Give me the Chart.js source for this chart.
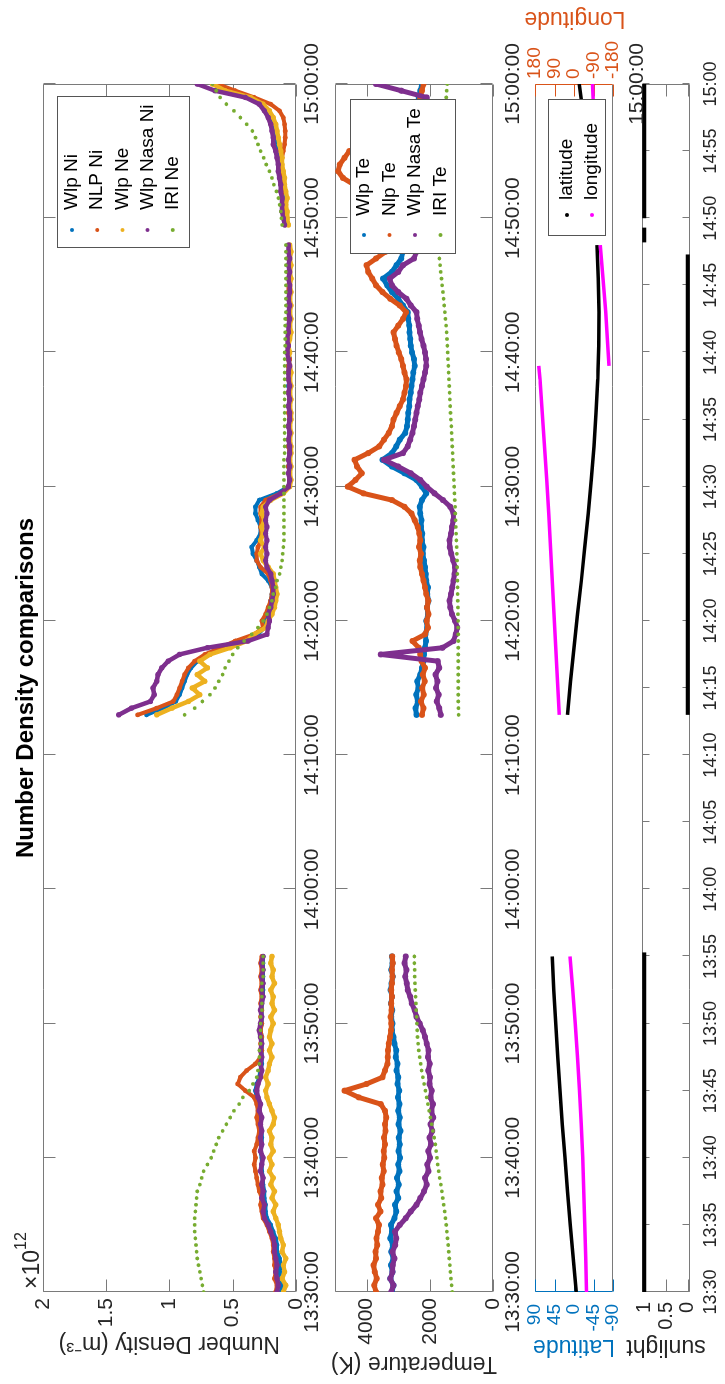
<!DOCTYPE html>
<html>
<head>
<meta charset="utf-8">
<script src="https://cdn.jsdelivr.net/npm/chart.js@4.4.1/dist/chart.umd.min.js"></script>
<style>
  html, body { margin: 0; padding: 0; background: #fff; overflow: hidden; }
  /* figure is laid out landscape, then turned a quarter turn */
  #fig { position: absolute; left: 0; top: 0; width: 1384px; height: 725px; background: #fff;
         transform-origin: 0 0; transform: translateY(1384px) rotate(-90deg); }
  #fig canvas { position: absolute; left: 0; }
</style>
</head>
<body>
<div id="fig">
  <canvas id="dens" width="1384" height="330" style="top:0"></canvas>
  <canvas id="temp" width="1384" height="240" style="top:300px"></canvas>
  <canvas id="geo" width="1384" height="150" style="top:500px"></canvas>
  <canvas id="sun" width="1384" height="105" style="top:620px"></canvas>
</div>
<script>
// time = minutes after 13:30:00, three passes with data gaps between them
const tA = [0,0.5,1,1.5,2,2.5,3,3.5,4,4.5,5,5.5,6,6.5,7,7.5,8,8.5,9,9.5,10,10.5,11,11.5,12,12.5,13,13.5,14,14.5,15,15.5,16,16.5,17,17.5,18,18.5,19,19.5,20,20.5,21,21.5,22,22.5,23,23.5,24,24.5,25];
const tB = [43,43.5,44,44.5,45,45.5,46,46.5,47,47.5,48,48.5,49,49.5,50,50.5,51,51.5,52,52.5,53,53.5,54,54.5,55,55.5,56,56.5,57,57.5,58,58.5,59,59.5,60,60.5,61,61.5,62,62.5,63,63.5,64,64.5,65,65.5,66,66.5,67,67.5,68,68.5,69,69.5,70,70.5,71,71.5,72,72.5,73,73.5,74,74.5,75,75.5,76,76.5,77,77.5,78];
const tC = [79.5,80,80.5,81,81.5,82,82.5,83,83.5,84,84.5,85,85.5,86,86.5,87,87.5,88,88.5,89,89.5,90];

// number density, units of 1e12 m^-3
const wlpNiA = [0.12,0.11,0.12,0.13,0.12,0.13,0.15,0.15,0.16,0.18,0.20,0.23,0.24,0.24,0.25,0.25,0.26,0.26,0.27,0.27,0.27,0.28,0.27,0.27,0.27,0.28,0.28,0.29,0.30,0.31,0.32,0.31,0.29,0.28,0.27,0.27,0.27,0.27,0.27,0.28,0.27,0.27,0.27,0.27,0.26,0.26,0.26,0.26,0.26,0.26,0.26];
const wlpNiB = [1.18,1.05,0.95,0.92,0.90,0.88,0.86,0.83,0.78,0.70,0.58,0.46,0.30,0.25,0.25,0.23,0.21,0.20,0.19,0.19,0.22,0.27,0.29,0.31,0.34,0.35,0.31,0.28,0.28,0.30,0.32,0.32,0.29,0.15,0.06,0.05,0.05,0.06,0.05,0.05,0.06,0.05,0.05,0.06,0.05,0.05,0.06,0.05,0.05,0.06,0.05,0.06,0.06,0.05,0.06,0.07,0.06,0.06,0.05,0.06,0.05,0.06,0.05,0.06,0.05,0.05,0.06,0.05,0.06,0.05,0.05];
const wlpNiC = [0.08,0.09,0.10,0.10,0.10,0.11,0.11,0.12,0.13,0.13,0.14,0.15,0.16,0.17,0.18,0.19,0.21,0.24,0.28,0.38,0.58,0.64];
const nlpNiA = [0.16,0.15,0.17,0.16,0.17,0.17,0.18,0.18,0.19,0.21,0.23,0.26,0.27,0.28,0.27,0.29,0.30,0.31,0.32,0.33,0.32,0.33,0.31,0.30,0.29,0.30,0.31,0.30,0.31,0.33,0.40,0.46,0.44,0.39,0.32,0.28,0.27,0.28,0.27,0.28,0.27,0.28,0.27,0.28,0.27,0.28,0.27,0.28,0.27,0.28,0.27];
const nlpNiB = [1.25,1.10,0.97,0.94,0.92,0.90,0.88,0.85,0.80,0.72,0.60,0.48,0.33,0.26,0.27,0.24,0.22,0.20,0.19,0.19,0.20,0.22,0.28,0.31,0.31,0.30,0.28,0.27,0.28,0.27,0.28,0.28,0.24,0.12,0.06,0.05,0.05,0.06,0.05,0.05,0.06,0.05,0.05,0.06,0.05,0.06,0.05,0.05,0.06,0.05,0.05,0.06,0.06,0.05,0.06,0.07,0.06,0.06,0.05,0.06,0.05,0.06,0.05,0.06,0.06,0.05,0.06,0.05,0.06,0.05,0.05];
const nlpNiC = [0.08,0.09,0.10,0.10,0.11,0.11,0.12,0.12,0.12,0.12,0.11,0.10,0.09,0.085,0.085,0.09,0.10,0.13,0.20,0.33,0.48,0.62];
const wlpNeA = [0.10,0.08,0.11,0.09,0.10,0.08,0.11,0.10,0.12,0.13,0.14,0.16,0.18,0.16,0.19,0.17,0.20,0.18,0.21,0.19,0.21,0.18,0.20,0.19,0.21,0.18,0.17,0.19,0.21,0.23,0.24,0.22,0.24,0.22,0.21,0.19,0.21,0.19,0.21,0.20,0.18,0.20,0.17,0.19,0.18,0.20,0.17,0.19,0.18,0.20,0.19];
const wlpNeB = [1.10,0.98,0.85,0.76,0.82,0.72,0.78,0.70,0.76,0.68,0.52,0.39,0.33,0.24,0.22,0.19,0.17,0.16,0.15,0.16,0.17,0.18,0.22,0.26,0.28,0.25,0.28,0.26,0.27,0.25,0.27,0.26,0.20,0.10,0.05,0.04,0.05,0.04,0.05,0.04,0.04,0.05,0.04,0.05,0.04,0.04,0.05,0.04,0.05,0.04,0.05,0.04,0.05,0.06,0.05,0.06,0.05,0.04,0.05,0.04,0.05,0.04,0.05,0.04,0.05,0.04,0.05,0.04,0.05,0.04,0.05];
const wlpNeC = [0.06,0.07,0.07,0.08,0.07,0.08,0.09,0.09,0.10,0.11,0.11,0.12,0.13,0.14,0.15,0.16,0.18,0.21,0.26,0.36,0.56,0.66];
const nasaNiA = [0.15,0.14,0.15,0.16,0.15,0.16,0.17,0.17,0.18,0.20,0.22,0.25,0.26,0.25,0.27,0.26,0.27,0.26,0.28,0.27,0.26,0.28,0.27,0.28,0.27,0.28,0.27,0.29,0.28,0.30,0.31,0.30,0.28,0.27,0.28,0.27,0.28,0.27,0.28,0.29,0.28,0.27,0.28,0.27,0.26,0.27,0.26,0.27,0.26,0.27,0.26];
const nasaNiB = [1.40,1.30,1.15,1.12,1.13,1.10,1.09,1.06,1.01,0.92,0.70,0.38,0.23,0.22,0.21,0.22,0.20,0.19,0.18,0.18,0.19,0.20,0.23,0.24,0.23,0.24,0.23,0.24,0.23,0.24,0.23,0.24,0.21,0.12,0.06,0.05,0.06,0.05,0.06,0.05,0.05,0.06,0.05,0.06,0.05,0.05,0.06,0.05,0.06,0.05,0.06,0.06,0.05,0.06,0.07,0.06,0.07,0.06,0.06,0.05,0.06,0.05,0.06,0.05,0.05,0.06,0.05,0.06,0.05,0.06,0.06];
const nasaNiC = [0.09,0.10,0.11,0.11,0.11,0.12,0.12,0.13,0.14,0.14,0.15,0.16,0.18,0.18,0.19,0.20,0.22,0.25,0.29,0.40,0.64,0.78];
const iriNeA = [0.73,0.74,0.75,0.76,0.77,0.78,0.785,0.79,0.795,0.80,0.80,0.80,0.795,0.79,0.785,0.78,0.76,0.745,0.73,0.70,0.67,0.65,0.63,0.61,0.58,0.55,0.52,0.49,0.45,0.42,0.37,0.34,0.31,0.30,0.29,0.29,0.29,0.28,0.28,0.28,0.28,0.28,0.27,0.27,0.27,0.27,0.27,0.26,0.26,0.26,0.26];
const iriNeB = [0.88,0.80,0.74,0.68,0.64,0.61,0.58,0.56,0.53,0.50,0.46,0.41,0.35,0.30,0.26,0.23,0.21,0.19,0.18,0.16,0.15,0.13,0.12,0.11,0.105,0.10,0.095,0.095,0.095,0.095,0.095,0.095,0.095,0.095,0.095,0.095,0.095,0.095,0.095,0.09,0.09,0.09,0.09,0.09,0.09,0.09,0.09,0.09,0.09,0.09,0.09,0.09,0.09,0.09,0.09,0.085,0.085,0.085,0.085,0.085,0.08,0.08,0.08,0.08,0.08,0.08,0.08,0.08,0.08,0.08,0.08];
const iriNeC = [0.11,0.115,0.12,0.13,0.14,0.155,0.175,0.19,0.21,0.235,0.255,0.28,0.30,0.32,0.345,0.39,0.44,0.49,0.55,0.60,0.63,0.66];

// electron temperature, K
const wlpTeA = [3200,3150,3250,3180,3230,3150,3220,3170,3250,3200,3230,3120,3060,3100,3000,3050,2980,3040,2960,3000,2940,2990,2950,2980,2930,2990,2950,3000,2960,3010,2970,3020,3000,3050,3020,3080,3060,3120,3150,3200,3180,3220,3190,3230,3200,3240,3210,3170,3220,3180,3200];
const wlpTeB = [2420,2450,2380,2430,2360,2400,2300,2250,2200,2180,2150,2120,2140,2080,2110,2060,2090,2040,2080,2060,2110,2130,2150,2180,2220,2200,2250,2240,2280,2260,2300,2320,2250,2110,2250,2420,2800,3200,3500,3200,3060,2950,2780,2720,2700,2680,2650,2640,2600,2580,2550,2520,2480,2500,2560,2600,2620,2640,2650,2680,2700,2850,3000,3200,3350,3480,3200,3050,2900,2850,2800];
const wlpTeC = [2700,2650,2700,2750,2800,2850,2900,2950,3000,3050,3000,2950,2900,2850,2750,2650,2550,2450,2400,2350,2300,2250];
const nlpTeA = [3700,3760,3680,3740,3780,3700,3720,3660,3690,3640,3610,3700,3560,3640,3540,3560,3500,3520,3460,3490,3440,3460,3420,3450,3400,3420,3380,3420,3550,4250,4700,4000,3500,3420,3340,3330,3320,3300,3260,3230,3220,3240,3210,3220,3200,3220,3200,3180,3200,3170,3190];
const nlpTeB = [2250,2200,2280,2190,2240,2160,2220,2150,2260,2300,2350,2550,2150,2060,2100,2040,2090,2050,2110,2150,2200,2250,2300,2320,2280,2340,2300,2330,2380,2480,2580,2800,3200,4100,4600,4350,4150,4300,4380,3950,3600,3450,3300,3200,3150,3050,2950,2850,2800,2750,2740,2800,2850,2900,2980,3050,3100,3150,3000,2850,2750,2950,3250,3500,3700,3820,3950,4000,3700,3400,3300];
const nlpTeC = [3000,3100,3300,3500,3800,4100,4400,4750,4900,4850,4700,4550,4000,3500,3000,2700,2500,2400,2350,2300,2250,2200];
const nasaTeA = [3220,3150,3250,3180,3170,3120,3180,3090,3060,3100,2950,2760,2600,2420,2300,2180,2100,2150,2040,2080,1990,2050,1960,2010,1920,1980,1890,1950,1900,1980,1940,2010,1990,2050,2000,2060,2040,2100,2150,2220,2320,2420,2480,2570,2620,2700,2730,2780,2740,2800,2760];
const nasaTeB = [1650,1700,1780,1720,1800,1760,1820,1700,1750,3550,1600,1250,1180,1130,1200,1300,1350,1380,1330,1290,1250,1220,1200,1260,1320,1370,1380,1330,1300,1260,1250,1350,1580,1850,2100,2300,2600,3000,3450,2850,2700,2620,2550,2500,2460,2420,2380,2330,2300,2250,2200,2150,2110,2120,2150,2200,2260,2310,2350,2400,2420,2600,2740,3000,3200,3270,3000,2850,2500,2420,2400];
const nasaTeC = [2500,2450,2500,2550,2600,2650,2700,2750,2800,2850,2800,2750,2700,2650,2550,2450,2300,2150,2050,2100,2900,3700];
const iriTeA = [1290,1310,1330,1350,1365,1385,1400,1420,1440,1460,1480,1505,1530,1560,1590,1620,1650,1690,1720,1750,1775,1800,1825,1860,1900,1940,1980,2020,2060,2100,2140,2180,2220,2260,2290,2320,2350,2370,2390,2400,2410,2420,2430,2440,2450,2460,2470,2480,2480,2490,2490];
const iriTeB = [1090,1095,1100,1100,1100,1100,1100,1100,1100,1100,1100,1100,1100,1105,1105,1110,1110,1115,1120,1120,1125,1130,1135,1140,1145,1150,1160,1170,1175,1185,1195,1200,1210,1220,1230,1240,1250,1260,1270,1280,1290,1300,1310,1320,1335,1345,1355,1365,1375,1385,1395,1405,1415,1425,1435,1445,1455,1470,1485,1505,1525,1545,1565,1585,1610,1630,1655,1675,1700,1720,1740];
const iriTeC = [1790,1785,1775,1765,1750,1735,1720,1700,1680,1660,1640,1620,1600,1580,1560,1545,1530,1510,1495,1480,1465,1450];

// satellite position, degrees
const geoTA = [0,2.5,5,7.5,10,12.5,15,17.5,20,22.5,25];
const latA = [-5,2,8.5,15,21,27,32.5,37.5,42,46.5,50];
const lonA = [-58,-54,-50,-45,-40,-33,-25,-16,-6,6,18];
const geoTB = [43,45.5,48,50.5,53,55.5,58,60.5,63,65.5,68,70.5,73,75.5,78];
const latB = [15,8,0,-8,-17,-25,-33,-40,-46,-51,-55,-57,-57.5,-56,-53];
const lonTB1 = [43,45.5,48,50.5,53,55.5,58,60.5,63,65.5,68,69];
const lonB1 = [68,76,84,92,100,108,117,126,136,146,157,163];
const lonTB2 = [69,70.5,73,75.5,78];
const lonB2 = [-162,-156,-146,-134,-121];
const geoTC = [79.5,82,84.5,87,90];
const latC = [-50,-43,-34,-24,-12];
const lonC = [-114,-107,-100,-93,-85];

// sunlight flag per stretch
const sunTA = [0,25.3], sunA = [1,1];
const sunTB = [43,77.3], sunB = [0,0];
const sunTC = [78.2,79.3], sunC = [1,1];
const sunTD = [80,90], sunD = [1,1];

const densTicks = [0,0.5,1,1.5,2];
const tempTicks = [0,2000,4000];
const latTicks = [-90,-45,0,45,90];
const lonTicks = [-180,-90,0,90,180];
const sunTicks = [0,0.5,1];

const BLUE = '#0072BD', ORANGE = '#D95319', YELLOW = '#EDB120', PURPLE = '#7E2F8E', GREEN = '#77AC30';
const INK = '#262626', EDGE = '#7a7a7a';
const FONT = '"Liberation Sans", Arial, Helvetica, sans-serif';
Chart.defaults.font.family = FONT;
Chart.defaults.color = INK;

// join passes into one trace, a null point breaks the line between them
function trace(...segs) {
  const out = [];
  segs.forEach(([ts, vs], i) => {
    if (i) out.push({ x: ts[0], y: null });
    ts.forEach((t, j) => out.push({ x: t, y: vs[j] }));
  });
  return out;
}

function dotted(label, color, data, order, width) {
  return { label, data, order, borderColor: color, backgroundColor: color, pointBackgroundColor: color,
           borderWidth: width, pointRadius: width * 0.6, pointBorderWidth: 0, tension: 0, clip: 0,
           borderJoinStyle: 'round', borderCapStyle: 'round' };
}
function model(label, color, data, order) {
  return { label, data, order, showLine: false, borderColor: color, backgroundColor: color,
           pointBackgroundColor: color, pointRadius: 1.9, pointBorderWidth: 0, clip: 0 };
}

const clock = v => {
  const m = 30 + v;
  return (13 + Math.floor(m / 60)) + ':' + String(m % 60).padStart(2, '0');
};
const clockSec = v => clock(v) + ':00';
const fixTicks = list => scale => { scale.ticks = list.map(v => ({ value: v })); };
const noGrid = { display: false, drawTicks: false };

// box frame with inward tick marks
const axisBox = {
  id: 'axisBox',
  beforeDatasetsDraw(chart, args, o) {
    const { ctx, chartArea: a } = chart;
    const L = Math.round(a.left) + 0.5, R = Math.round(a.right) - 0.5;
    const T = Math.round(a.top) + 0.5, B = Math.round(a.bottom) - 0.5;
    ctx.save();
    ctx.lineWidth = 1;
    const line = (c, x1, y1, x2, y2) => { ctx.strokeStyle = c; ctx.beginPath(); ctx.moveTo(x1, y1); ctx.lineTo(x2, y2); ctx.stroke(); };
    line(EDGE, L, T, R, T);
    line(EDGE, L, B, R, B);
    line(o.left || EDGE, L, T, L, B);
    line(o.right || EDGE, R, T, R, B);
    (o.marks || []).forEach(m => {
      const s = chart.scales[m.scale];
      ctx.strokeStyle = m.color || EDGE;
      s.ticks.forEach(t => {
        const p = Math.round(s.getPixelForValue(t.value)) + 0.5;
        ctx.beginPath();
        m.sides.forEach(side => {
          if (side === 'bottom') { ctx.moveTo(p, B); ctx.lineTo(p, B - m.len); }
          if (side === 'top') { ctx.moveTo(p, T); ctx.lineTo(p, T + m.len); }
          if (side === 'left') { ctx.moveTo(L, p); ctx.lineTo(L + m.len, p); }
          if (side === 'right') { ctx.moveTo(R, p); ctx.lineTo(R - m.len, p); }
        });
        ctx.stroke();
      });
    });
    ctx.restore();
  }
};

// legend drawn inside the plot, one column of dot + label rows
const boxLegend = {
  id: 'boxLegend',
  afterDatasetsDraw(chart, args, o) {
    if (!o.box) return;
    const { ctx } = chart;
    const b = o.box;
    ctx.save();
    ctx.fillStyle = '#fff';
    ctx.fillRect(b.x, b.y, b.w, b.h);
    ctx.strokeStyle = '#555';
    ctx.lineWidth = 1;
    ctx.strokeRect(b.x + 0.5, b.y + 0.5, b.w, b.h);
    ctx.font = o.size + 'px ' + FONT;
    ctx.textBaseline = 'middle';
    ctx.textAlign = 'left';
    chart.data.datasets.forEach((d, i) => {
      const y = o.rowY + i * o.rowGap;
      ctx.fillStyle = d.borderColor;
      ctx.beginPath();
      ctx.arc(o.dotX, y, 2, 0, Math.PI * 2);
      ctx.fill();
      ctx.fillStyle = '#000';
      ctx.fillText(d.label, o.textX, y);
    });
    ctx.restore();
  }
};

// loose text: exponent note, right-hand axis name
const notes = {
  id: 'notes',
  afterDraw(chart, args, o) {
    const { ctx } = chart;
    (o.items || []).forEach(n => {
      ctx.save();
      ctx.font = n.size + 'px ' + FONT;
      ctx.fillStyle = n.color || INK;
      ctx.textAlign = n.align || 'left';
      ctx.textBaseline = n.baseline || 'alphabetic';
      ctx.translate(n.x, n.y);
      if (n.rotate) ctx.rotate(n.rotate);
      ctx.fillText(n.text, 0, 0);
      ctx.restore();
    });
  }
};

const base = { responsive: false, animation: false, devicePixelRatio: 1, events: [] };
const quiet = { legend: { display: false }, tooltip: { enabled: false } };

new Chart(document.getElementById('dens'), {
  type: 'line',
  data: {
    datasets: [
      dotted('Wlp Ni', BLUE, trace([tA, wlpNiA], [tB, wlpNiB], [tC, wlpNiC]), 5, 4),
      dotted('NLP Ni', ORANGE, trace([tA, nlpNiA], [tB, nlpNiB], [tC, nlpNiC]), 4, 4),
      dotted('Wlp Ne', YELLOW, trace([tA, wlpNeA], [tB, wlpNeB], [tC, wlpNeC]), 3, 4.5),
      dotted('Wlp Nasa Ni', PURPLE, trace([tA, nasaNiA], [tB, nasaNiB], [tC, nasaNiC]), 2, 4.5),
      model('IRI Ne', GREEN, trace([tA, iriNeA], [tB, iriNeB], [tC, iriNeC]), 1)
    ]
  },
  options: {
    ...base,
    layout: { padding: { left: 0, right: 84, top: 0, bottom: 0 } },
    plugins: {
      ...quiet,
      title: { display: true, fullSize: false, text: 'Number Density comparisons', color: '#000',
               font: { size: 24, weight: 'bold' }, padding: { top: 12, bottom: 2 } },
      axisBox: { marks: [{ scale: 'x', len: 12, sides: ['top', 'bottom'] }, { scale: 'y', len: 12, sides: ['left', 'right'] }] },
      boxLegend: { box: { x: 1136, y: 57, w: 151, h: 132 }, rowY: 72, rowGap: 25.2, dotX: 1154, textX: 1174, size: 19 },
      notes: { items: [
        { text: '\u00d710', x: 95, y: 39, size: 23 },
        { text: '12', x: 134, y: 26, size: 16 }
      ] }
    },
    scales: {
      x: { type: 'linear', min: 0, max: 90, grid: noGrid, border: { display: false },
           ticks: { stepSize: 10, autoSkip: false, maxRotation: 0, padding: 4, font: { size: 21 }, callback: clockSec },
           afterFit: s => { s.height = 34; } },
      y: { min: 0, max: 2, grid: noGrid, border: { display: false }, afterBuildTicks: fixTicks(densTicks),
           ticks: { autoSkip: false, padding: 6, font: { size: 21 }, callback: v => String(v) },
           title: { display: true, text: 'Number Density (m\u207b\u00b3)', font: { size: 23 }, padding: { top: 27, bottom: 0 } },
           afterFit: s => { s.width = 92; } }
    }
  },
  plugins: [axisBox, boxLegend, notes]
});

new Chart(document.getElementById('temp'), {
  type: 'line',
  data: {
    datasets: [
      dotted('Wlp Te', BLUE, trace([tA, wlpTeA], [tB, wlpTeB], [tC, wlpTeC]), 4, 5),
      dotted('Nlp Te', ORANGE, trace([tA, nlpTeA], [tB, nlpTeB], [tC, nlpTeC]), 3, 5),
      dotted('Wlp Nasa Te', PURPLE, trace([tA, nasaTeA], [tB, nasaTeB], [tC, nasaTeC]), 2, 5),
      model('IRI Te', GREEN, trace([tA, iriTeA], [tB, iriTeB], [tC, iriTeC]), 1)
    ]
  },
  options: {
    ...base,
    layout: { padding: { left: 0, right: 84, top: 35, bottom: 0 } },
    plugins: {
      ...quiet,
      axisBox: { marks: [{ scale: 'x', len: 12, sides: ['top', 'bottom'] }, { scale: 'y', len: 12, sides: ['left', 'right'] }] },
      boxLegend: { box: { x: 1130, y: 50, w: 154, h: 105 }, rowY: 64, rowGap: 25.5, dotX: 1149, textX: 1168, size: 19 }
    },
    scales: {
      x: { type: 'linear', min: 0, max: 90, grid: noGrid, border: { display: false },
           ticks: { stepSize: 10, autoSkip: false, maxRotation: 0, padding: 8, font: { size: 21 }, callback: clockSec },
           afterFit: s => { s.height = 47; } },
      y: { min: 0, max: 5000, grid: noGrid, border: { display: false }, afterBuildTicks: fixTicks(tempTicks),
           ticks: { autoSkip: false, padding: 6, font: { size: 21 }, callback: v => String(v) },
           title: { display: true, text: 'Temperature (K)', font: { size: 23 }, padding: { top: 7, bottom: 0 } },
           afterFit: s => { s.width = 92; } }
    }
  },
  plugins: [axisBox, boxLegend]
});

new Chart(document.getElementById('geo'), {
  type: 'line',
  data: {
    datasets: [
      { label: 'latitude', yAxisID: 'y', order: 2, data: trace([geoTA, latA], [geoTB, latB], [geoTC, latC]),
        borderColor: '#000', backgroundColor: '#000', borderWidth: 3.5, pointRadius: 0, clip: 0 },
      { label: 'longitude', yAxisID: 'y2', order: 1, data: trace([geoTA, lonA], [lonTB1, lonB1], [lonTB2, lonB2], [geoTC, lonC]),
        borderColor: '#FF00FF', backgroundColor: '#FF00FF', borderWidth: 3.5, pointRadius: 0, clip: 0 }
    ]
  },
  options: {
    ...base,
    layout: { padding: { left: 0, right: 0, top: 35, bottom: 0 } },
    plugins: {
      ...quiet,
      axisBox: { left: BLUE, right: ORANGE, marks: [
        { scale: 'y', len: 12, sides: ['left'], color: BLUE },
        { scale: 'y2', len: 12, sides: ['right'], color: ORANGE }
      ] },
      boxLegend: { box: { x: 1148, y: 48, w: 136, h: 57 }, rowY: 67, rowGap: 25, dotX: 1169, textX: 1184, size: 19 },
      notes: { items: [
        { text: 'Longitude', x: 1366, y: 75, size: 23, color: ORANGE, align: 'center', baseline: 'middle', rotate: -Math.PI / 2 }
      ] }
    },
    scales: {
      x: { type: 'linear', min: 0, max: 90, grid: noGrid, border: { display: false }, afterBuildTicks: fixTicks([90]),
           ticks: { autoSkip: false, maxRotation: 0, padding: 12, font: { size: 21 }, callback: clockSec },
           afterFit: s => { s.height = 37; } },
      y: { min: -90, max: 90, grid: noGrid, border: { display: false }, afterBuildTicks: fixTicks(latTicks),
           ticks: { autoSkip: false, padding: 12, color: BLUE, font: { size: 19 }, callback: v => String(v) },
           title: { display: true, text: 'Latitude', color: BLUE, font: { size: 23 }, padding: { top: 24, bottom: 0 } },
           afterFit: s => { s.width = 92; } },
      y2: { position: 'right', min: -180, max: 180, grid: noGrid, border: { display: false }, afterBuildTicks: fixTicks(lonTicks),
            ticks: { autoSkip: false, padding: 5, color: ORANGE, font: { size: 19 }, callback: v => String(v) },
            afterFit: s => { s.width = 84; } }
    }
  },
  plugins: [axisBox, boxLegend, notes]
});

new Chart(document.getElementById('sun'), {
  type: 'line',
  data: {
    datasets: [
      { label: 'sunlight', data: trace([sunTA, sunA], [sunTB, sunB], [sunTC, sunC], [sunTD, sunD]),
        borderColor: '#000', borderWidth: 4, pointRadius: 0, clip: 0 }
    ]
  },
  options: {
    ...base,
    layout: { padding: { left: 0, right: 84, top: 15, bottom: 0 } },
    plugins: {
      ...quiet,
      axisBox: { marks: [{ scale: 'x', len: 7, sides: ['top', 'bottom'] }, { scale: 'y', len: 12, sides: ['left', 'right'] }] }
    },
    scales: {
      x: { type: 'linear', min: 0, max: 90, grid: noGrid, border: { display: false },
           ticks: { stepSize: 5, autoSkip: false, maxRotation: 0, padding: 10, font: { size: 18 }, callback: clock },
           afterFit: s => { s.height = 35; } },
      y: { min: -0.05, max: 1.05, grid: noGrid, border: { display: false }, afterBuildTicks: fixTicks(sunTicks),
           ticks: { autoSkip: false, padding: 10, font: { size: 20 }, callback: v => String(v) },
           title: { display: true, text: 'sunlight', font: { size: 23 }, padding: { top: 24, bottom: 0 } },
           afterFit: s => { s.width = 92; } }
    }
  },
  plugins: [axisBox]
});
</script>
</body>
</html>
